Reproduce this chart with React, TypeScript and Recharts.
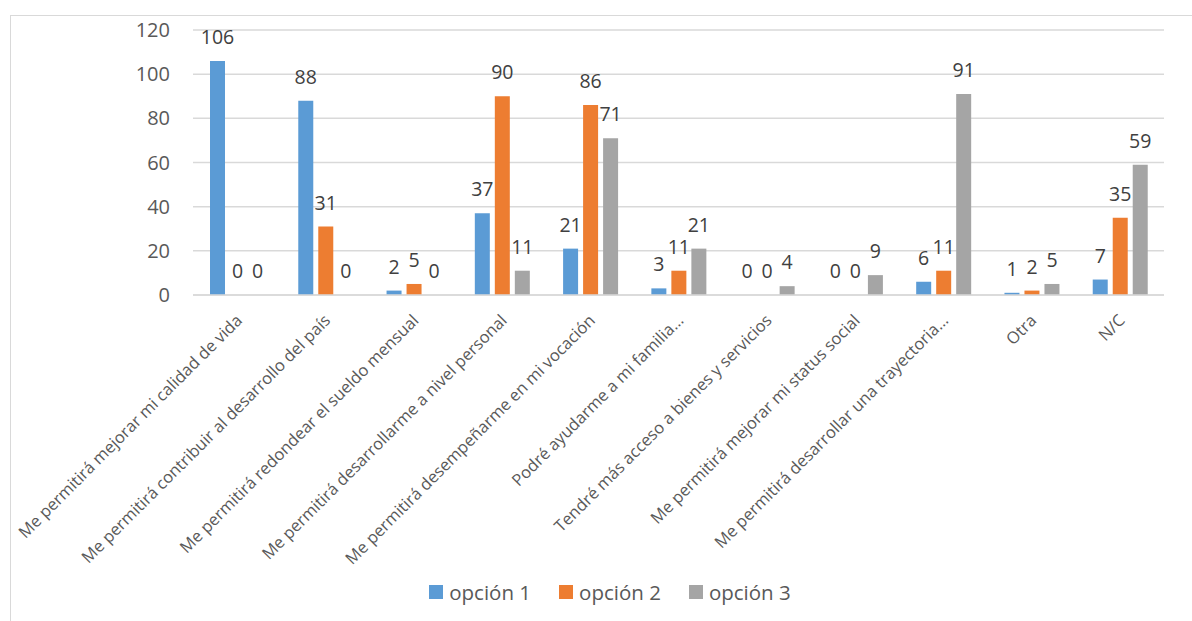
import React from "react";
import { BarChart, Bar, XAxis, YAxis, CartesianGrid, LabelList, Legend, Rectangle } from "recharts";

const categories = [
  "Me permitirá mejorar mi calidad de vida",
  "Me permitirá contribuir al desarrollo del país",
  "Me permitirá redondear el sueldo mensual",
  "Me permitirá desarrollarme a nivel personal",
  "Me permitirá desempeñarme en mi vocación",
  "Podré ayudarme a mi familia…",
  "Tendré más acceso a bienes y servicios",
  "Me permitirá mejorar mi status social",
  "Me permitirá desarrollar una trayectoria…",
  "Otra",
  "N/C",
];

const opcion1 = [106, 88, 2, 37, 21, 3, 0, 0, 6, 1, 7];
const opcion2 = [0, 31, 5, 90, 86, 11, 0, 0, 11, 2, 35];
const opcion3 = [0, 0, 0, 11, 71, 21, 4, 9, 91, 5, 59];

const yTicks = [0, 20, 40, 60, 80, 100, 120];

const seriesNames = ["opción 1", "opción 2", "opción 3"];
const seriesColors = ["#5B9BD5", "#ED7D31", "#A5A5A5"];

const data = categories.map((name, i) => ({
  name,
  o1: opcion1[i],
  o2: opcion2[i],
  o3: opcion3[i],
}));

const FONT = "'Open Sans', 'Liberation Sans', sans-serif";

const CategoryTick = (props: any) => {
  const { x, y, payload } = props;
  return (
    <g transform={`translate(${x + 6},${y + 18.5}) rotate(-45)`}>
      <text x={0} y={0} textAnchor="end" fill="#595959" fontSize={16.5} fontFamily={FONT}>
        {payload.value}
      </text>
    </g>
  );
};

const LegendContent = (props: any) => {
  const { payload } = props;
  return (
    <div style={{ display: "flex", justifyContent: "center", fontFamily: FONT }}>
      {payload.map((entry: any, i: number) => (
        <div
          key={i}
          style={{ display: "flex", alignItems: "center", marginRight: i < payload.length - 1 ? 28 : 0 }}
        >
          <span style={{ display: "inline-block", width: 14, height: 14, background: entry.color, marginRight: 6 }} />
          <span style={{ color: "#595959", fontSize: 20.5 }}>{entry.value}</span>
        </div>
      ))}
    </div>
  );
};

// zero-valued columns keep a hair-thin rect so their value label is still placed, but draw nothing
const BarShape = (props: any) => {
  const { value } = props;
  const v = Array.isArray(value) ? value[1] - value[0] : value;
  if (!v) return <g />;
  return <Rectangle {...props} />;
};

const zeroMin = (value: any) => (value === 0 ? 0.01 : 0);

export default function App() {
  const keys = ["o1", "o2", "o3"];
  return (
    <div style={{ position: "absolute", left: 0, top: 0, width: 1192, height: 621, background: "#fff", overflow: "hidden" }}>
      <div
        style={{
          position: "absolute",
          left: 10,
          top: 15,
          width: 1200,
          height: 640,
          border: "1px solid #D9D9D9",
          boxSizing: "border-box",
        }}
      />
      <BarChart
        width={1192}
        height={621}
        data={data}
        margin={{ top: 30, right: 28, bottom: 0, left: 0 }}
        barSize={15}
        barGap={5}
        style={{ position: "absolute", left: 0, top: 0 }}
      >
        <CartesianGrid vertical={false} stroke="#D9D9D9" strokeWidth={1.5} />
        <XAxis
          dataKey="name"
          interval={0}
          height={326}
          tick={<CategoryTick />}
          tickLine={false}
          axisLine={{ stroke: "#D9D9D9", strokeWidth: 1.5 }}
        />
        <YAxis
          width={193}
          domain={[0, 120]}
          ticks={yTicks}
          axisLine={false}
          tickLine={false}
          tickMargin={17}
          tick={{ fill: "#595959", fontSize: 20, fontFamily: FONT }}
        />
        <Legend
          verticalAlign="middle"
          content={<LegendContent />}
          wrapperStyle={{ top: 578, left: 0, width: 1220, height: 26 }}
        />
        {keys.map((k, i) => (
          <Bar
            key={k}
            dataKey={k}
            name={seriesNames[i]}
            fill={seriesColors[i]}
            minPointSize={zeroMin}
            shape={<BarShape />}
            isAnimationActive={false}
          >
            <LabelList
              dataKey={k}
              position="top"
              offset={17}
              fill="#404040"
              fontSize={19.5}
              fontFamily={FONT}
            />
          </Bar>
        ))}
      </BarChart>
    </div>
  );
}
